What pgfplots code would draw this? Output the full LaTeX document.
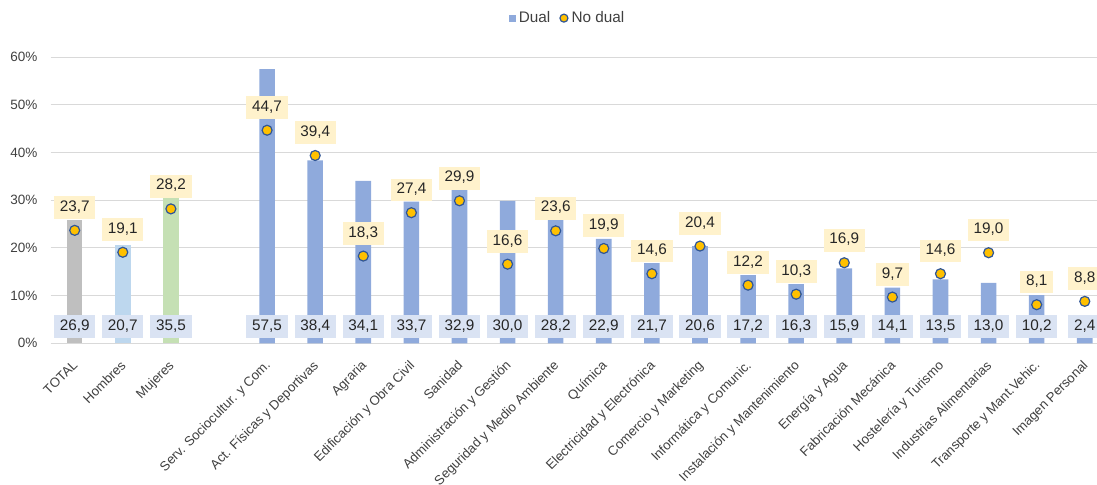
\documentclass[border=0pt]{standalone}
\usepackage{pgfplots}
\pgfplotsset{compat=1.18}
\usepackage{pgfplotstable}
\usepackage{fontspec}
\setmainfont{Liberation Sans}
\definecolor{dualblue}{HTML}{8FAADC}
\definecolor{totgray}{HTML}{BFBFBF}
\definecolor{menblue}{HTML}{BDD7EE}
\definecolor{womgreen}{HTML}{C5E0B4}
\definecolor{labblue}{HTML}{DAE3F3}
\definecolor{labyellow}{HTML}{FFF2CC}
\definecolor{markfill}{HTML}{FFC000}
\definecolor{markdraw}{HTML}{2F5597}
\definecolor{gridgray}{HTML}{D9D9D9}
\definecolor{ticktext}{HTML}{404040}
\definecolor{labtext}{HTML}{262626}

% x: category position, h: drawn bar height, lab: label of Dual, ly: label row, nd: No dual, ndlab: its label
\pgfplotstableread{
x h lab ly nd ndlab
0 25.9 26,9 3.5 23.7 23,7
1 20.6 20,7 3.5 19.1 19,1
2 30.6 35,5 3.5 28.2 28,2
4 57.5 57,5 3.5 44.7 44,7
5 38.4 38,4 3.5 39.4 39,4
6 34.1 34,1 3.5 18.3 18,3
7 29.7 33,7 3.5 27.4 27,4
8 32.2 32,9 3.5 29.9 29,9
9 29.9 30,0 3.5 16.6 16,6
10 25.9 28,2 3.5 23.6 23,6
11 21.9 22,9 3.5 19.9 19,9
12 16.8 21,7 3.5 14.6 14,6
13 20.4 20,6 3.5 20.4 20,4
14 14.3 17,2 3.5 12.2 12,2
15 12.4 16,3 3.5 10.3 10,3
16 15.7 15,9 3.5 16.9 16,9
17 11.7 14,1 3.5 9.7 9,7
18 13.4 13,5 3.5 14.6 14,6
19 12.7 13,0 3.5 19.0 19,0
20 10.1 10,2 3.5 8.1 8,1
21 2.4 2,4 3.5 8.8 8,8
}\data

\pgfplotstableread{
x h
4 57.5
5 38.4
6 34.1
7 29.7
8 32.2
9 29.9
10 25.9
11 21.9
12 16.8
13 20.4
14 14.3
15 12.4
16 15.7
17 11.7
18 13.4
19 12.7
20 10.1
21 2.4
}\dualmain

\begin{document}
\begin{tikzpicture}
\begin{axis}[
  name=ax,
  x=48.1bp, y=4.767bp,
  xmin=-0.5, xmax=21.254,
  ymin=0, ymax=60,
  enlargelimits=false,
  clip=false,
  axis line style={draw=none},
  ymajorgrids,
  major grid style={gridgray, line width=1bp},
  major tick length=0pt,
  ytick={0,10,...,60},
  yticklabel={\pgfmathprintnumber{\tick}\%},
  /pgf/number format/assume math mode=true,
  yticklabel style={font=\fontsize{13.5bp}{16bp}\selectfont, text=ticktext, anchor=east, inner sep=0pt, xshift=-13bp},
  xtick={0,1,2,4,5,...,21},
  xticklabels={TOTAL,Hombres,Mujeres,{Serv. Sociocultur. y Com.},{Act. Físicas y Deportivas},Agraria,{Edificación y Obra Civil},Sanidad,{Administración y Gestión},{Seguridad y Medio Ambiente},Química,{Electricidad y Electrónica},{Comercio y Marketing},{Informática y Comunic.},{Instalación y Mantenimiento},{Energía y Agua},{Fabricación Mecánica},{Hostelería y Turismo},{Industrias Alimentarias},{Transporte y Mant.Vehic.},{Imagen Personal}},
  xticklabel style={font=\fontsize{13.2bp}{15bp}\selectfont, text=ticktext, xshift=-3bp, rotate=45, anchor=north east, inner sep=0pt},
  xticklabel shift=16bp,
  legend style={at={(0.4945,1.137)}, anchor=center, draw=none, fill=none,
     font=\fontsize{15.3bp}{18bp}\selectfont, text=ticktext,
     nodes={inner xsep=3bp, inner ysep=1bp},
     /tikz/every even column/.append style={column sep=6bp}},
  legend columns=-1,
]
% Dual bars
\addplot[ybar, bar width=15.6bp, bar shift=0pt, fill=dualblue, draw=none,
  legend image code/.code={\fill[dualblue] (0bp,-3.5bp) rectangle (7bp,3.5bp);}]
  table[x=x, y=h] {\dualmain};
\addlegendentry{Dual}
\addplot[ybar, bar width=15.6bp, bar shift=0pt, fill=totgray, draw=none, forget plot] coordinates {(0,25.9)};
\addplot[ybar, bar width=15.6bp, bar shift=0pt, fill=menblue, draw=none, forget plot] coordinates {(1,20.6)};
\addplot[ybar, bar width=15.6bp, bar shift=0pt, fill=womgreen, draw=none, forget plot] coordinates {(2,30.6)};
% Dual labels
\addplot[draw=none, mark=none, forget plot, nodes near coords, point meta=explicit symbolic,
  every node near coord/.append style={anchor=center, fill=labblue, text=labtext,
    font=\fontsize{15.3bp}{18bp}\selectfont, inner xsep=5.8bp, inner ysep=4.5bp,
    text height=11bp, text depth=3.5bp}]
  table[x=x, y=ly, meta=lab] {\data};
% No dual
\addplot[only marks, mark=*, mark size=5bp, mark options={fill=markfill, draw=markdraw, line width=1.2bp},
  nodes near coords, point meta=explicit symbolic,
  legend image code/.code={\node[circle, fill=markfill, draw=markdraw, line width=1.2bp, inner sep=0pt, minimum size=8bp] at (4bp,0bp) {};},
  every node near coord/.append style={anchor=center, yshift=22.7bp, fill=labyellow, text=labtext,
    font=\fontsize{15.3bp}{18bp}\selectfont, inner xsep=5.8bp, inner ysep=4.2bp,
    text height=11bp, text depth=3.5bp}]
  table[x=x, y=nd, meta=ndlab] {\data};
\addlegendentry{No dual}
\end{axis}
\pgfresetboundingbox
\path[use as bounding box] ([xshift=-50.65bp,yshift=-140.7bp]ax.south west) rectangle ([yshift=57.3bp]ax.north east);
\end{tikzpicture}
\end{document}
